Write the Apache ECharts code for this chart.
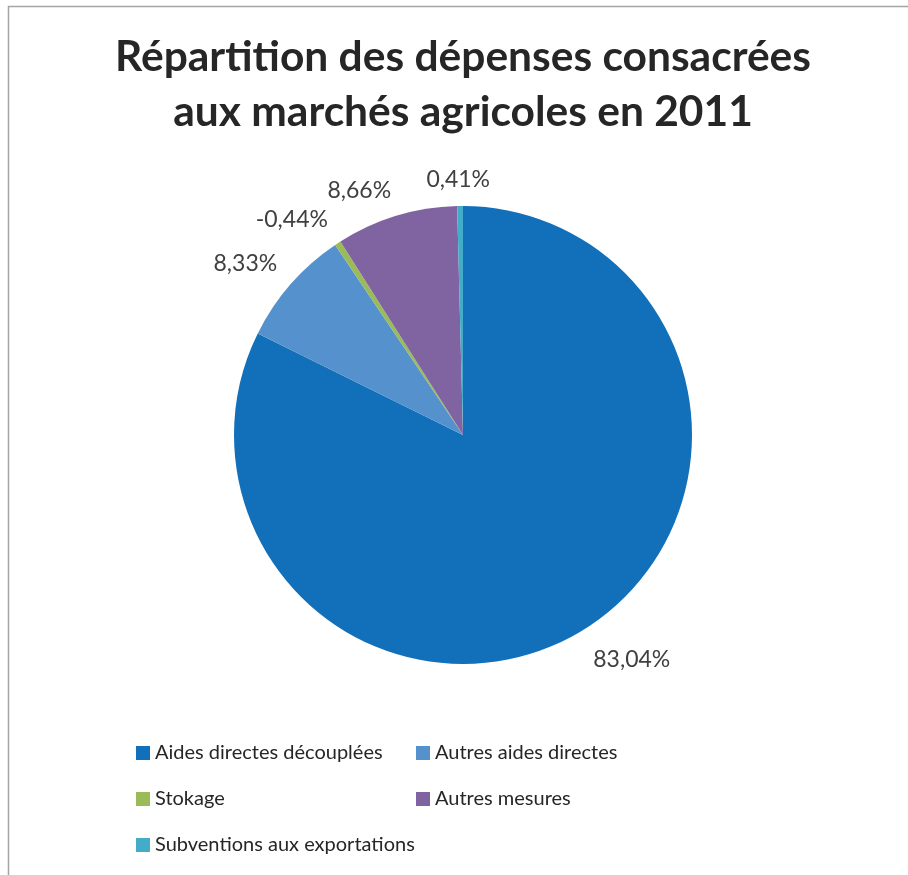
<!DOCTYPE html>
<html>
<head>
<meta charset="utf-8">
<script src="https://cdn.jsdelivr.net/npm/echarts@6/dist/echarts.min.js"></script>
<style>
html,body{margin:0;padding:0;background:#fff;}
#chart{width:908px;height:875px;}
</style>
</head>
<body>
<div id="chart"></div>
<script>
var titleLines = ['Répartition des dépenses consacrées', 'aux marchés agricoles en 2011'];
var categories = ['Aides directes découplées', 'Autres aides directes', 'Stokage', 'Autres mesures', 'Subventions aux exportations'];
var shares = [83.04, 8.33, -0.44, 8.66, 0.41];
var colors = ['#1270BA', '#5591CD', '#9BBB59', '#8064A2', '#43ACC8'];
var FONT = 'Lato, "Open Sans", sans-serif';

var chart = echarts.init(document.getElementById('chart'), null, {renderer: 'canvas'});

function fmt(v) { return v.toFixed(2).replace('.', ',') + '%'; }
function clamp(v) { return Math.max(-1, Math.min(1, v)); }

var pieData = categories.map(function (name, i) {
  return { name: name, value: Math.abs(shares[i]), signed: shares[i], itemStyle: { color: colors[i] } };
});

var option = {
  backgroundColor: '#ffffff',
  animation: false,
  graphic: [{
    type: 'rect',
    shape: { x: 8.5, y: 6.5, width: 2000, height: 2000 },
    style: { fill: 'none', stroke: '#a5a5a5', lineWidth: 1.5 },
    silent: true
  }],
  title: {
    text: titleLines.join('\n'),
    left: 458,
    textAlign: 'center',
    top: 25,
    textStyle: { fontFamily: FONT, fontWeight: 'bold', fontSize: 42.5, lineHeight: 55, color: '#262626' }
  },
  legend: [{
    orient: 'vertical',
    left: 136, top: 741, padding: 0,
    itemWidth: 14, itemHeight: 14, itemGap: 22,
    icon: 'rect',
    data: [categories[0], categories[2], categories[4]],
    textStyle: { fontFamily: FONT, fontSize: 20, lineHeight: 24, color: '#262626' }
  }, {
    orient: 'vertical',
    left: 416, top: 741, padding: 0,
    itemWidth: 14, itemHeight: 14, itemGap: 22,
    icon: 'rect',
    data: [categories[1], categories[3]],
    textStyle: { fontFamily: FONT, fontSize: 20, lineHeight: 24, color: '#262626' }
  }],
  series: [{
    type: 'pie',
    center: [463, 435],
    radius: 229,
    startAngle: 90,
    clockwise: true,
    avoidLabelOverlap: false,
    data: pieData,
    label: {
      show: true,
      position: 'outside',
      fontFamily: FONT,
      fontSize: 23,
      color: '#404040',
      formatter: function (p) { return fmt(p.data.signed); }
    },
    labelLine: { show: true, length: 10, length2: 0, lineStyle: { opacity: 0 } },
    labelLayout: function (p) {
      var pts = p.labelLinePoints;
      if (!pts) return {};
      var dx = pts[1][0] - pts[0][0], dy = pts[1][1] - pts[0][1];
      var len = Math.sqrt(dx * dx + dy * dy) || 1;
      dx /= len; dy /= len;
      var w = p.labelRect.width, h = p.labelRect.height;
      var ax = pts[0][0] + dx * 18, ay = pts[0][1] + dy * 18;
      return {
        x: ax + clamp(dx * 4) * w / 2,
        y: ay + clamp(dy * 4) * h / 2 + 3,
        align: 'center',
        verticalAlign: 'middle'
      };
    },
    emphasis: { disabled: true }
  }]
};
chart.setOption(option);
</script>
</body>
</html>
